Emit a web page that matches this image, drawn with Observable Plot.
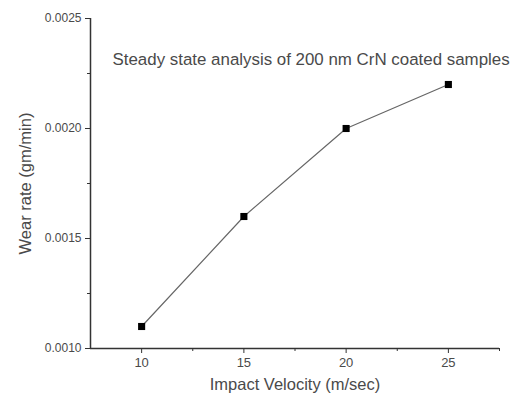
<!DOCTYPE html>
<html><head><meta charset="utf-8">
<script src="https://cdn.jsdelivr.net/npm/d3@7"></script>
<script src="https://cdn.jsdelivr.net/npm/@observablehq/plot@0.6"></script>
<style>body{margin:0;background:#fff;font-family:"Liberation Sans",Arial,sans-serif;}</style>
</head><body><div id="chart"></div>
<script>
const velocity = [10, 15, 20, 25];
const wearRate = [0.0011, 0.0016, 0.0020, 0.0022];
const xTicks = [10, 15, 20, 25];
const xMinor = [12.5, 17.5, 22.5, 27.5];
const yTicks = [0.0010, 0.0015, 0.0020, 0.0025];
const yMinor = [0.00125, 0.00175, 0.00225];
const title = "Steady state analysis of 200 nm CrN coated samples";
const xLabel = "Impact Velocity (m/sec)";
const yLabel = "Wear rate (gm/min)";
const xDomain = [7.5, 27.5];
const yDomain = [0.0010, 0.0025];

const data = velocity.map((v, i) => ({v, w: wearRate[i]}));
const ink = "#4a4a4a";

const plot = Plot.plot({
  width: 514, height: 400,
  marginLeft: 90, marginRight: 15, marginTop: 18, marginBottom: 52,
  style: {fontFamily: "'Liberation Sans', Arial, sans-serif", fontSize: "12px", color: ink, background: "#fff"},
  x: {domain: xDomain, label: null},
  y: {domain: yDomain, label: null},
  marks: [
    Plot.ruleX([xDomain[0]], {stroke: "#333", strokeWidth: 1.5}),
    Plot.ruleY([yDomain[0]], {stroke: "#333", strokeWidth: 1.5}),
    Plot.axisX({ticks: xTicks, tickSize: 5, tickPadding: 4, tickFormat: d => String(d), stroke: "#333", fill: ink, fontSize: 13}),
    Plot.axisX({ticks: xMinor, tickSize: 3, text: null, stroke: "#333"}),
    Plot.axisY({ticks: yTicks, tickSize: 5, tickPadding: 4, tickFormat: d => d.toFixed(4), stroke: "#333", fill: ink, fontSize: 12}),
    Plot.axisY({ticks: yMinor, tickSize: 3, text: null, stroke: "#333"}),
    Plot.line(data, {x: "v", y: "w", stroke: "#666", strokeWidth: 1.2}),
    Plot.dot(data, {x: "v", y: "w", symbol: "square", r: 4, fill: "#000", stroke: "none"}),
    Plot.text([title], {frameAnchor: "top-left", dx: 22, dy: 34, text: d => d, textAnchor: "start", fontSize: 16.9, fill: ink}),
    Plot.text([xLabel], {frameAnchor: "bottom", dx: 0, dy: 41, text: d => d, fontSize: 16.5, fill: ink}),
    Plot.text([yLabel], {frameAnchor: "left", textAnchor: "middle", dx: -65, dy: 0, text: d => d, rotate: -90, fontSize: 16.5, fill: ink})
  ]
});
document.getElementById("chart").appendChild(plot);
</script>
</body></html>
